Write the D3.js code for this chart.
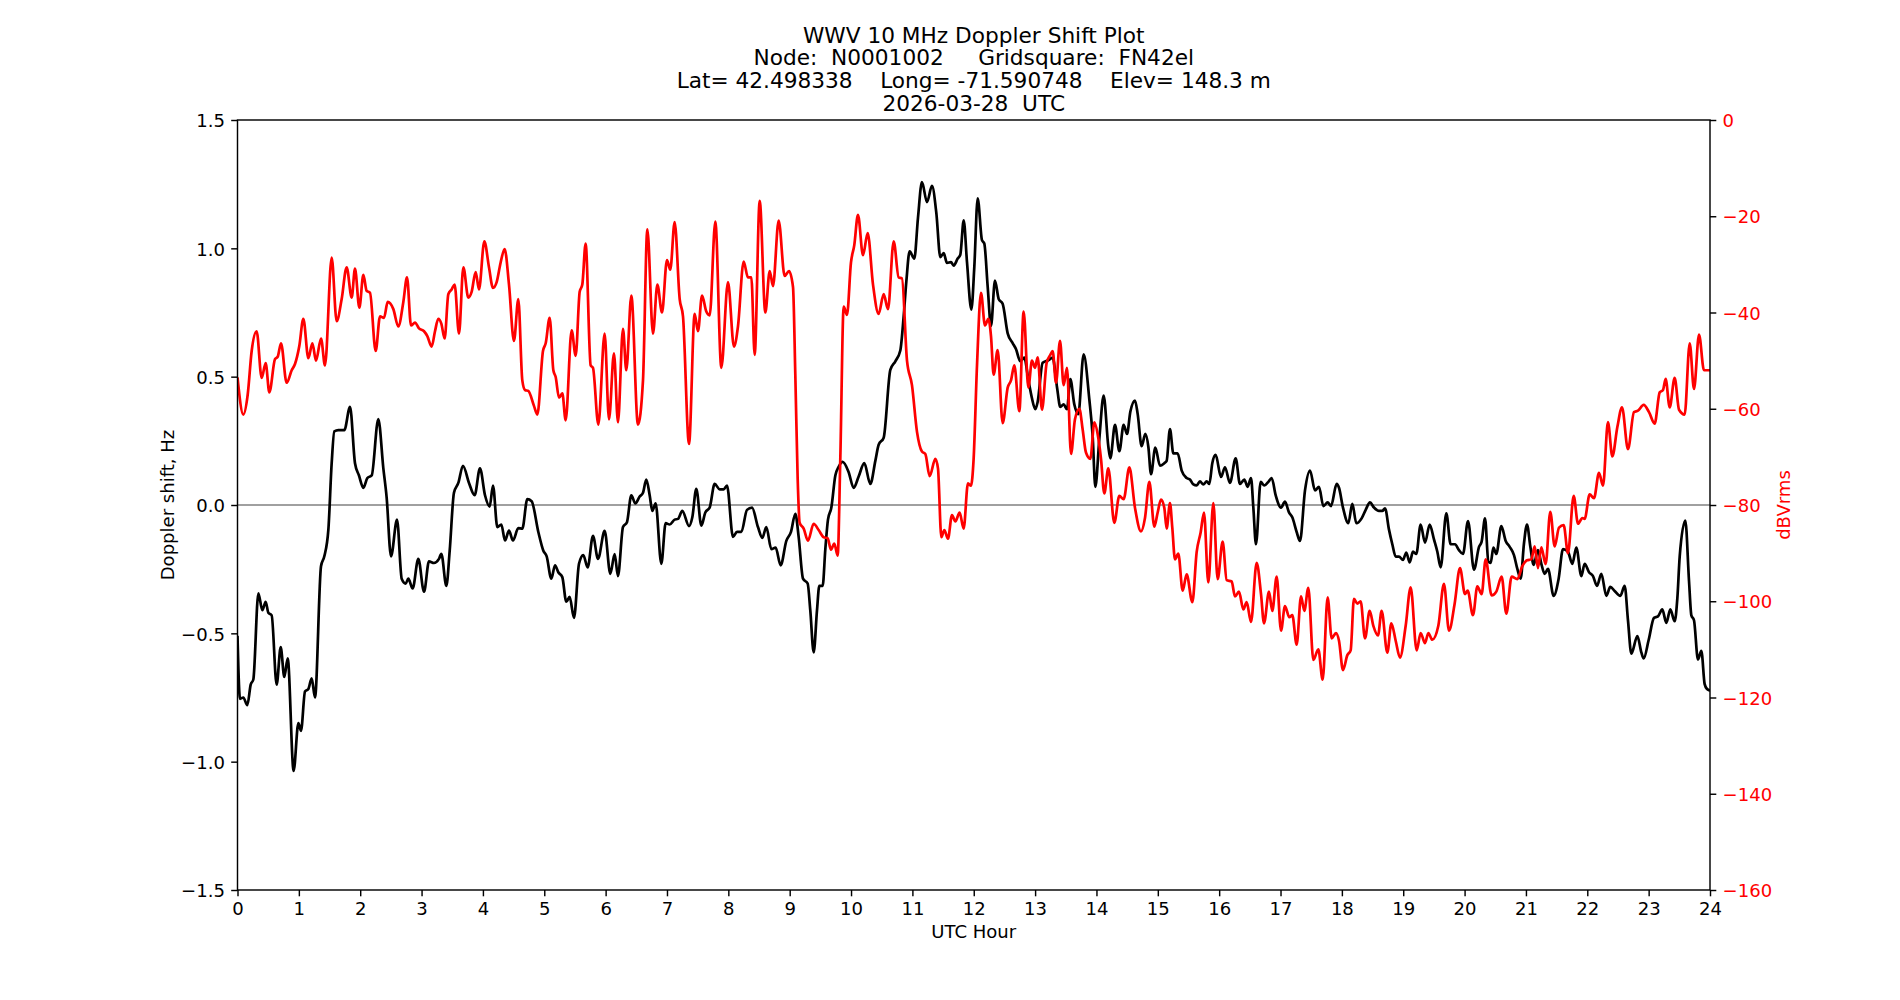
<!DOCTYPE html>
<html>
<head>
<meta charset="utf-8">
<script src="https://cdn.jsdelivr.net/npm/d3@7"></script>
<style>
  html, body { margin: 0; padding: 0; background: #ffffff; }
  svg { display: block; font-family: "DejaVu Sans", sans-serif; }
  text { white-space: pre; }
</style>
</head>
<body>
<svg id="chart" width="1900" height="1000"></svg>
<script>
// ---- Data ----
const titleLines = [
  "WWV 10 MHz Doppler Shift Plot",
  "Node:  N0001002     Gridsquare:  FN42el",
  "Lat= 42.498338    Long= -71.590748    Elev= 148.3 m",
  "2026-03-28  UTC"
];
const xLabel = "UTC Hour";
const yLeftLabel = "Doppler shift, Hz";
const yRightLabel = "dBVrms";

const hourTicks = d3.range(0, 25, 1);
const dopplerTicks = [-1.5, -1.0, -0.5, 0.0, 0.5, 1.0, 1.5];
const powerTicks = [-160, -140, -120, -100, -80, -60, -40, -20, 0];

// Doppler shift (Hz) — black line
const dopplerHours = [
0.0,0.041,0.095,0.160,0.215,0.258,0.340,0.405,0.459,0.503,0.557,0.638,0.704,0.763,0.818,0.915,0.992,1.035,1.100,1.155,1.209,1.263,1.361,1.415,1.481,1.535,1.578,1.643,1.741,1.834,1.915,1.980,2.051,2.116,2.187,2.295,2.377,2.431,2.502,2.600,2.676,2.741,2.784,2.855,2.947,
3.040,3.121,3.202,3.284,3.322,3.404,3.458,3.528,3.599,3.675,3.773,3.865,3.952,4.034,4.110,4.164,4.235,4.300,4.360,4.425,4.490,4.577,4.642,4.724,4.794,4.903,4.985,5.039,5.115,5.175,5.229,5.294,5.359,5.414,5.484,5.566,5.636,5.707,5.794,5.876,5.984,
6.077,6.147,6.201,6.283,6.348,6.419,6.484,6.555,6.609,6.663,6.718,6.761,6.815,6.908,6.978,7.044,7.125,7.179,7.250,7.359,7.413,7.478,7.560,7.625,7.696,7.777,7.859,7.924,7.978,8.076,8.141,8.212,8.304,8.386,8.483,8.554,8.619,8.701,8.771,8.853,8.945,
9.021,9.092,9.146,9.217,9.293,9.336,9.391,9.445,9.483,9.537,9.581,9.624,9.679,9.744,9.798,9.863,9.961,10.043,10.124,10.216,10.314,10.396,10.450,10.532,10.640,10.722,10.803,10.858,10.901,10.955,11.031,11.091,11.156,11.238,11.319,11.390,11.455,11.510,11.564,11.629,11.673,11.738,11.781,11.836,11.890,11.961,
12.009,12.064,12.134,12.172,12.227,12.281,12.346,12.406,12.471,12.553,12.634,12.688,12.759,12.824,12.890,12.944,13.004,13.042,13.123,13.216,13.286,13.357,13.411,13.465,13.520,13.574,13.639,13.704,13.791,13.884,13.938,13.982,14.047,14.117,14.193,14.226,14.302,14.373,14.443,14.498,14.552,14.628,14.672,14.737,14.797,14.846,14.889,14.960,
15.035,15.106,15.144,15.198,15.253,15.323,15.389,15.470,15.524,15.579,15.633,15.687,15.742,15.796,15.840,15.888,15.943,16.030,16.095,16.176,16.269,16.339,16.410,16.464,16.519,16.557,16.600,16.676,16.736,16.801,16.856,16.921,17.008,17.073,17.138,17.192,17.263,17.317,17.399,17.481,17.562,17.627,17.698,17.768,17.823,17.915,
17.953,18.018,18.105,18.170,18.236,18.322,18.388,18.458,18.523,18.605,18.659,18.703,18.768,18.822,18.877,18.931,18.996,19.050,19.105,19.159,19.213,19.284,19.355,19.431,19.501,19.556,19.610,19.702,19.773,19.844,19.909,19.974,20.056,20.153,20.235,20.278,20.333,20.387,20.425,20.469,20.517,20.599,20.670,20.735,20.805,20.860,20.914,20.968,
21.017,21.072,21.126,21.196,21.251,21.305,21.359,21.452,21.533,21.604,21.685,21.756,21.821,21.903,21.957,22.028,22.093,22.158,22.229,22.310,22.375,22.446,22.538,22.609,22.663,22.718,22.816,22.881,22.919,23.000,23.087,23.152,23.223,23.288,23.353,23.424,23.468,23.506,23.598,23.658,23.696,23.739,23.804,23.859,23.913,23.951,24.0
];
const dopplerHz = [
-0.51,-0.755,-0.75,-0.78,-0.70,-0.68,-0.344,-0.41,-0.377,-0.42,-0.43,-0.70,-0.554,-0.67,-0.597,-1.036,-0.85,-0.88,-0.727,-0.717,-0.675,-0.75,-0.239,-0.20,-0.096,0.163,0.287,0.292,0.292,0.382,0.163,0.115,0.067,0.105,0.115,0.335,0.143,0.029,-0.20,-0.057,-0.287,-0.306,-0.287,-0.325,-0.21,
-0.338,-0.22,-0.226,-0.21,-0.19,-0.315,-0.18,0.048,0.086,0.153,0.086,0.038,0.143,0.038,-0.006,0.076,-0.086,-0.076,-0.138,-0.10,-0.138,-0.09,-0.092,0.023,0.015,-0.105,-0.178,-0.20,-0.287,-0.235,-0.262,-0.281,-0.377,-0.358,-0.44,-0.229,-0.195,-0.243,-0.12,-0.21,-0.101,
-0.268,-0.191,-0.277,-0.086,-0.067,0.038,0.006,0.033,0.048,0.099,0.038,-0.023,0.006,-0.229,-0.071,-0.076,-0.057,-0.054,-0.023,-0.082,-0.048,0.063,-0.08,-0.029,-0.01,0.082,0.061,0.061,0.076,-0.124,-0.105,-0.105,-0.019,-0.01,-0.086,-0.128,-0.086,-0.172,-0.166,-0.235,-0.14,
-0.105,-0.034,-0.124,-0.287,-0.306,-0.411,-0.574,-0.411,-0.315,-0.315,-0.172,-0.057,-0.01,0.115,0.149,0.168,0.128,0.067,0.111,0.163,0.082,0.172,0.235,0.262,0.526,0.56,0.602,0.736,0.87,0.988,0.96,1.119,1.258,1.18,1.243,1.138,0.966,0.981,0.943,0.946,0.933,0.96,0.975,1.109,0.946,0.761,
0.927,1.195,1.032,1.019,0.851,0.698,0.874,0.803,0.784,0.669,0.631,0.608,0.56,0.574,0.488,0.421,0.373,0.402,0.554,0.564,0.574,0.459,0.382,0.392,0.373,0.491,0.392,0.354,0.587,0.411,0.268,0.071,0.258,0.426,0.229,0.182,0.312,0.21,0.312,0.277,0.363,0.407,0.354,0.229,0.277,0.226,0.12,0.224,
0.153,0.163,0.172,0.296,0.201,0.201,0.134,0.105,0.099,0.08,0.076,0.092,0.08,0.092,0.082,0.163,0.195,0.109,0.147,0.086,0.182,0.082,0.099,0.071,0.105,-0.01,-0.153,0.09,0.076,0.09,0.105,0.038,-0.01,0.013,-0.029,-0.048,-0.105,-0.14,0.057,0.134,0.057,0.071,-0.004,0.01,-0.004,0.082,
0.067,-0.01,-0.071,0.004,-0.071,-0.052,-0.019,0.01,-0.01,-0.023,-0.023,-0.013,-0.096,-0.153,-0.201,-0.201,-0.214,-0.185,-0.224,-0.182,-0.191,-0.076,-0.147,-0.076,-0.134,-0.182,-0.243,-0.033,-0.153,-0.153,-0.176,-0.191,-0.063,-0.252,-0.163,-0.143,-0.052,-0.22,-0.226,-0.166,-0.191,-0.082,-0.14,-0.163,-0.195,-0.249,-0.287,-0.15,
-0.076,-0.163,-0.233,-0.176,-0.229,-0.268,-0.249,-0.354,-0.287,-0.172,-0.182,-0.229,-0.166,-0.277,-0.229,-0.262,-0.277,-0.315,-0.268,-0.354,-0.319,-0.335,-0.354,-0.315,-0.449,-0.579,-0.511,-0.574,-0.598,-0.526,-0.44,-0.434,-0.407,-0.459,-0.407,-0.453,-0.363,-0.201,-0.061,-0.296,-0.43,-0.449,-0.602,-0.568,-0.698,-0.717,-0.723
];

// Received level (dBVrms) — red line
const powerHours = [
0.0,0.095,0.166,0.231,0.312,0.394,0.459,0.519,0.611,0.655,0.709,0.801,0.883,0.937,1.008,1.073,1.155,1.220,1.280,1.361,1.426,1.535,1.616,1.698,1.779,1.861,1.915,1.986,2.051,2.105,2.160,2.252,2.323,2.388,2.448,2.540,2.621,2.703,2.763,2.828,2.893,2.958,
3.040,3.094,3.164,3.219,3.273,3.322,3.376,3.436,3.490,3.539,3.610,3.681,3.762,3.816,3.882,3.936,4.023,4.099,4.164,4.224,4.289,4.354,4.425,4.506,4.577,4.642,4.686,4.740,4.832,4.887,4.979,5.023,5.088,5.148,5.186,5.240,5.294,5.349,5.446,5.512,5.577,5.620,5.674,5.756,5.794,5.881,5.984,
6.055,6.136,6.201,6.283,6.337,6.419,6.527,6.609,6.680,6.772,6.843,6.919,7.000,7.054,7.125,7.207,7.261,7.359,7.451,7.505,7.571,7.641,7.696,7.788,7.886,7.994,8.092,8.157,8.250,8.320,8.375,8.429,8.511,8.603,8.674,8.728,8.820,8.918,8.989,
9.054,9.092,9.130,9.162,9.228,9.298,9.391,9.472,9.554,9.619,9.673,9.727,9.782,9.825,9.880,9.934,9.999,10.053,10.113,10.195,10.271,10.358,10.450,10.532,10.602,10.695,10.776,10.830,10.912,10.993,11.075,11.156,11.211,11.281,11.374,11.417,11.472,11.520,11.580,11.645,11.700,11.770,11.835,11.906,11.955,
11.998,12.053,12.118,12.183,12.238,12.281,12.324,12.390,12.471,12.553,12.607,12.661,12.743,12.813,12.890,12.949,12.998,13.042,13.112,13.188,13.248,13.286,13.341,13.406,13.465,13.520,13.585,13.650,13.721,13.775,13.829,13.900,13.966,14.020,14.074,14.128,14.193,14.291,14.373,14.443,14.536,14.628,14.726,14.791,14.862,14.943,
14.997,15.052,15.106,15.144,15.198,15.236,15.280,15.334,15.405,15.470,15.563,15.633,15.698,15.753,15.823,15.905,15.975,16.057,16.122,16.204,16.258,16.323,16.394,16.448,16.519,16.611,16.682,16.731,16.812,16.866,16.937,17.008,17.073,17.143,17.192,17.263,17.334,17.388,17.453,17.535,17.616,17.687,17.768,17.834,17.904,
17.953,18.018,18.089,18.143,18.197,18.252,18.306,18.377,18.453,18.513,18.589,18.648,18.741,18.806,18.877,18.947,19.040,19.121,19.219,19.284,19.355,19.409,19.474,19.572,19.664,19.746,19.838,19.925,20.007,20.050,20.137,20.208,20.278,20.344,20.441,20.517,20.604,20.680,20.767,20.860,20.941,
21.017,21.088,21.142,21.196,21.251,21.321,21.397,21.468,21.539,21.615,21.685,21.778,21.849,21.919,21.957,22.039,22.109,22.191,22.256,22.337,22.408,22.490,22.566,22.663,22.761,22.826,22.919,23.006,23.098,23.180,23.234,23.277,23.343,23.424,23.495,23.587,23.669,23.739,23.821,23.902,24.0
];
const powerDb = [
-53.5,-61.2,-57.1,-48,-43.9,-53.6,-50.5,-56.6,-49.7,-49.2,-46.4,-54.6,-52,-50.7,-46.9,-41.3,-49.5,-46.4,-50,-45.4,-51,-28.6,-41.8,-37.2,-30.6,-36.9,-30.9,-39,-32.2,-35.5,-35.9,-48,-40.8,-41.1,-37.8,-39.3,-42.9,-37.8,-32.7,-42.7,-42.1,-43.3,
-43.9,-44.9,-47.1,-43.9,-41.3,-42.3,-45.4,-36.2,-35.2,-34.2,-44.4,-30.6,-36.9,-35.7,-31.6,-35.2,-25.2,-30.6,-34.9,-33.7,-29.6,-26.8,-34.2,-45.9,-37.2,-54.1,-56.1,-56.3,-59.4,-61.2,-48,-46.4,-41.1,-52,-53.4,-57.7,-56.8,-62.4,-43.7,-49,-35.7,-34.2,-25.7,-51,-51.5,-63.3,-44.4,
-62.2,-48.5,-62.8,-43.4,-52,-36.5,-63.3,-54.1,-22.7,-44.4,-34.2,-40,-29.1,-31.1,-21.2,-37.2,-40.8,-67.3,-40.3,-43.9,-36.5,-39.8,-40.6,-21.1,-51.5,-33.7,-47.1,-42.9,-29.4,-32.7,-32.7,-48.8,-16.8,-40,-31.4,-34.5,-20.9,-32.4,-31.4,
-34.7,-53.1,-74.5,-83.7,-84.9,-87.4,-83.9,-85.2,-86.7,-86.9,-89.3,-88,-90.5,-70.4,-38.8,-40.5,-29.6,-26,-19.7,-28.1,-23.5,-34.2,-40.3,-36.2,-39.3,-25.2,-32.7,-32.9,-50,-55.1,-64.8,-68.9,-69.4,-74,-70.4,-72.4,-86.7,-85.2,-87,-82.1,-83.4,-81.6,-84.9,-75.5,-76,
-70.4,-51,-35.9,-42.7,-41.3,-44.9,-52.9,-47.8,-63,-55.6,-54.1,-51,-60.5,-39.8,-55.6,-50,-51.5,-49.3,-60.2,-50.5,-48.8,-48,-54.6,-45.9,-55.1,-51.5,-69.4,-62.2,-60,-64.3,-69.1,-70.4,-62.8,-65.3,-70.4,-77.6,-72.4,-83.7,-78.1,-78.8,-72.2,-80.6,-85.5,-82.7,-75.2,-84.5,
-81.6,-78.9,-80.6,-84.9,-79.6,-84.7,-91.3,-90.1,-97.8,-94.4,-100.2,-89.8,-85.7,-81.6,-96.1,-79.6,-95.4,-87.6,-95.6,-95.9,-99,-98,-101.7,-100.2,-104.3,-92,-98.5,-104.6,-98,-102,-94.9,-106.1,-101,-103.3,-102.9,-109,-99,-102,-97.2,-112.2,-110,-116.3,-99.2,-107.7,-106.6,
-108.2,-114.3,-111.2,-110.2,-99.5,-100.5,-100,-107.7,-102,-105.1,-107.1,-102,-110.7,-104.6,-108.2,-111.7,-105.1,-97.1,-110.2,-106.6,-108.7,-106.6,-108,-105.1,-96.4,-106.1,-100.5,-93.1,-98.5,-97.8,-102.9,-96.9,-98.5,-91.3,-98.8,-98,-94.9,-102.6,-94.9,-95.4,-92.7,
-91.5,-91.3,-88.6,-93.1,-88.8,-92.3,-81.4,-88.6,-84.7,-84.2,-90,-78.1,-83.9,-82.7,-82.9,-77.8,-78.6,-73.3,-76,-62.8,-69.9,-63.8,-59.7,-68.4,-60.7,-60.4,-59.2,-60.7,-63.1,-56.6,-56.1,-53.8,-59.7,-53.6,-60.2,-61.2,-46.4,-55.9,-44.6,-52,-52
];

// ---- Layout ----
const W = 1900, H = 1000;
const plot = { left: 237.5, right: 1710, top: 120, bottom: 890 };
const fs = 18.06, titleFs = 21.67;
const tickLen = 6.3, tickPad = 6.3;

const svg = d3.select("#chart");
svg.append("rect").attr("width", W).attr("height", H).attr("fill", "#ffffff");

const x = d3.scaleLinear().domain([0, 24]).range([plot.left, plot.right]);
const yL = d3.scaleLinear().domain([-1.5, 1.5]).range([plot.bottom, plot.top]);
const yR = d3.scaleLinear().domain([-160, 0]).range([plot.bottom, plot.top]);

// zero line
svg.append("line")
  .attr("x1", plot.left).attr("x2", plot.right)
  .attr("y1", yL(0)).attr("y2", yL(0))
  .attr("stroke", "#808080").attr("stroke-width", 1.3);

svg.append("clipPath").attr("id", "clip")
  .append("rect").attr("x", plot.left).attr("y", plot.top)
  .attr("width", plot.right - plot.left).attr("height", plot.bottom - plot.top);

const doppler = dopplerHours.map((h, i) => [h, dopplerHz[i]]);
const power = powerHours.map((h, i) => [h, powerDb[i]]);

const lineL = d3.line().x(d => x(d[0])).y(d => yL(d[1])).curve(d3.curveMonotoneX);
const lineR = d3.line().x(d => x(d[0])).y(d => yR(d[1])).curve(d3.curveMonotoneX);

const g = svg.append("g").attr("clip-path", "url(#clip)");
g.append("path").datum(doppler).attr("d", lineL)
  .attr("fill", "none").attr("stroke", "#000000").attr("stroke-width", 2.7)
  .attr("stroke-linejoin", "round");
g.append("path").datum(power).attr("d", lineR)
  .attr("fill", "none").attr("stroke", "#ff0000").attr("stroke-width", 2.7)
  .attr("stroke-linejoin", "round");

// axes
function styleAxis(sel, color) {
  sel.select(".domain").remove();
  sel.selectAll(".tick line").attr("stroke", "#000").attr("stroke-width", 1.44);
  sel.selectAll(".tick text").attr("fill", color)
    .attr("font-size", fs).attr("font-family", "DejaVu Sans, sans-serif");
}

const xAxis = svg.append("g").attr("transform", `translate(0,${plot.bottom})`)
  .call(d3.axisBottom(x).tickValues(hourTicks).tickFormat(d3.format("d"))
    .tickSizeInner(tickLen).tickSizeOuter(0).tickPadding(tickPad));
styleAxis(xAxis, "#000");
xAxis.selectAll(".tick text").attr("dy", "0.66em");

const yAxisL = svg.append("g").attr("transform", `translate(${plot.left},0)`)
  .call(d3.axisLeft(yL).tickValues(dopplerTicks).tickFormat(d3.format(".1f"))
    .tickSizeInner(tickLen).tickSizeOuter(0).tickPadding(tickPad));
styleAxis(yAxisL, "#000");
yAxisL.selectAll(".tick text").attr("dy", "0.37em");

const yAxisR = svg.append("g").attr("transform", `translate(${plot.right},0)`)
  .call(d3.axisRight(yR).tickValues(powerTicks).tickFormat(d3.format("d"))
    .tickSizeInner(tickLen).tickSizeOuter(0).tickPadding(tickPad));
styleAxis(yAxisR, "#ff0000");
yAxisR.selectAll(".tick text").attr("dy", "0.37em");

// frame
svg.append("rect")
  .attr("x", plot.left).attr("y", plot.top)
  .attr("width", plot.right - plot.left).attr("height", plot.bottom - plot.top)
  .attr("fill", "none").attr("stroke", "#000").attr("stroke-width", 1.44);

// labels
const cx = (plot.left + plot.right) / 2;
const cy = (plot.top + plot.bottom) / 2;
svg.append("text").attr("x", cx).attr("y", 938)
  .attr("text-anchor", "middle").attr("font-size", fs).attr("fill", "#000").text(xLabel);
svg.append("text").attr("transform", `translate(174,${cy}) rotate(-90)`)
  .attr("text-anchor", "middle").attr("font-size", fs).attr("fill", "#000").text(yLeftLabel);
svg.append("text").attr("transform", `translate(1790,${cy}) rotate(-90)`)
  .attr("text-anchor", "middle").attr("font-size", fs).attr("fill", "#ff0000").text(yRightLabel);

const titleBase = [42.5, 65.3, 88.2, 111];
svg.append("g").selectAll("text").data(titleLines).join("text")
  .attr("x", cx).attr("y", (d, i) => titleBase[i])
  .attr("text-anchor", "middle").attr("font-size", titleFs).attr("fill", "#000")
  .attr("xml:space", "preserve")
  .text(d => d);
</script>
</body>
</html>
